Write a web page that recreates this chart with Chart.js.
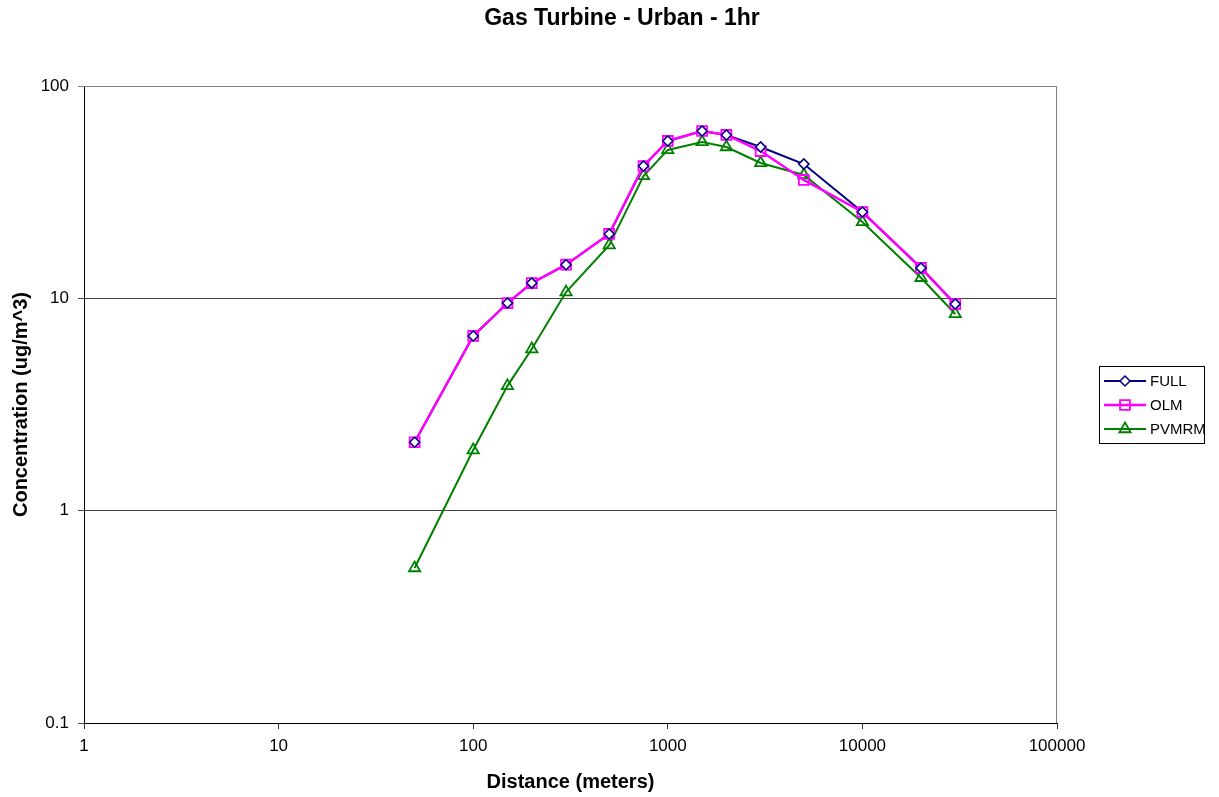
<!DOCTYPE html>
<html>
<head>
<meta charset="utf-8">
<title>Gas Turbine - Urban - 1hr</title>
<script src="https://cdn.jsdelivr.net/npm/chart.js@4/dist/chart.umd.min.js"></script>
<style>
    body { margin: 0; background: #fff; }
    canvas { display: block; }
</style>
</head>
<body>
<canvas id="concChart" width="1219" height="797"></canvas>
<script>
// Receptor distances (m) and 1-hr concentrations (ug/m^3) for each NO2 method
const distances = [50, 100, 150, 200, 300, 500, 750, 1000, 1500, 2000, 3000, 5000, 10000, 20000, 30000];
const fullConc = [2.10, 6.65, 9.5, 11.8, 14.4, 20.1, 42.0, 55.1, 61.4, 58.8, 51.6, 42.9, 25.5, 13.9, 9.4];
const olmConc = [2.10, 6.65, 9.5, 11.8, 14.4, 20.1, 42.0, 55.1, 61.4, 58.8, 49.4, 36.1, 25.5, 13.9, 9.4];
const pvmrmConc = [0.537, 1.93, 3.87, 5.77, 10.7, 17.8, 37.7, 50.0, 54.5, 51.6, 43.4, 38.1, 22.9, 12.5, 8.44];

const xTicks = [1, 10, 100, 1000, 10000, 100000];
const yTicks = [0.1, 1, 10, 100];

const FONT = 'Arial, "Liberation Sans", sans-serif';

function toPoints(values) {
    return distances.map((d, i) => ({ x: d, y: values[i] }));
}

// Title, frame and boxed legend are drawn straight onto the canvas
const chartDecor = {
    id: 'chartDecor',
    beforeDatasetsDraw(chart) {
        const { ctx, chartArea } = chart;
        ctx.save();
        ctx.strokeStyle = '#808080';
        ctx.lineWidth = 1;
        ctx.beginPath();
        ctx.moveTo(chartArea.left, Math.round(chartArea.top) + 0.5);
        ctx.lineTo(Math.round(chartArea.right) - 0.5, Math.round(chartArea.top) + 0.5);
        ctx.lineTo(Math.round(chartArea.right) - 0.5, chartArea.bottom);
        ctx.stroke();
        ctx.restore();
    },
    afterDatasetsDraw(chart) {
        // markers sit above every line, so FULL diamonds show inside OLM squares
        const { ctx, chartArea } = chart;
        chart.data.datasets.forEach((ds, i) => {
            if (ds.label !== 'FULL') return;
            chart.getDatasetMeta(i).data.forEach(pt => pt.draw(ctx, chartArea));
        });
    },
    afterDraw(chart) {
        const { ctx } = chart;
        ctx.save();
        ctx.fillStyle = '#000';
        ctx.font = 'bold 23px ' + FONT;
        ctx.textAlign = 'center';
        ctx.textBaseline = 'middle';
        ctx.fillText('Gas Turbine - Urban - 1hr', 622, 19);

        // legend box, entries in series order
        ctx.strokeStyle = '#000';
        ctx.lineWidth = 1;
        ctx.strokeRect(1099.5, 366.5, 105, 77);
        ctx.font = '15px ' + FONT;
        ctx.textAlign = 'left';
        const rowY = [381, 405, 429];
        ['FULL', 'OLM', 'PVMRM'].forEach((name, i) => {
            const ds = chart.data.datasets.find(d => d.label === name);
            const y = rowY[i];
            ctx.strokeStyle = ds.borderColor;
            ctx.lineWidth = ds.borderWidth;
            ctx.beginPath();
            ctx.moveTo(1104, y);
            ctx.lineTo(1146, y);
            ctx.stroke();
            ctx.fillStyle = ds.pointBackgroundColor;
            ctx.strokeStyle = ds.pointBorderColor;
            ctx.lineWidth = ds.pointBorderWidth;
            Chart.helpers.drawPoint(ctx, {
                pointStyle: ds.pointStyle,
                radius: ds.pointRadius,
                rotation: 0,
                borderWidth: ds.pointBorderWidth
            }, 1125, y);
            ctx.fillStyle = '#000';
            ctx.fillText(name, 1150, y + 1);
        });
        ctx.restore();
    }
};

const ctx = document.getElementById('concChart').getContext('2d');
new Chart(ctx, {
    type: 'line',
    data: {
        datasets: [
            {
                label: 'FULL',
                data: toPoints(fullConc),
                order: 2,
                borderColor: '#000080',
                borderWidth: 2,
                pointStyle: 'rectRot',
                pointRadius: 5,
                pointBorderColor: '#000080',
                pointBackgroundColor: '#ffffff',
                pointBorderWidth: 1.5
            },
            {
                label: 'OLM',
                data: toPoints(olmConc),
                order: 1,
                borderColor: '#ff00ff',
                borderWidth: 2.5,
                pointStyle: 'rect',
                pointRadius: 7,
                pointBorderColor: '#ff00ff',
                pointBackgroundColor: 'rgba(255,255,255,0)',
                pointBorderWidth: 1.8
            },
            {
                label: 'PVMRM',
                data: toPoints(pvmrmConc),
                order: 3,
                borderColor: '#008000',
                borderWidth: 2,
                pointStyle: 'triangle',
                pointRadius: 6.5,
                pointBorderColor: '#008000',
                pointBackgroundColor: 'rgba(255,255,255,0)',
                pointBorderWidth: 1.8
            }
        ]
    },
    options: {
        responsive: false,
        animation: false,
        devicePixelRatio: 1,
        layout: {
            padding: { top: 86, right: 162, bottom: 0, left: 0 }
        },
        plugins: {
            legend: { display: false },
            title: { display: false },
            tooltip: { enabled: false }
        },
        elements: {
            line: { tension: 0 }
        },
        scales: {
            x: {
                type: 'logarithmic',
                min: 1,
                max: 100000,
                afterBuildTicks: scale => { scale.ticks = xTicks.map(v => ({ value: v })); },
                afterFit: scale => { scale.height = 74; },
                border: { color: '#000', width: 1 },
                grid: { drawOnChartArea: false, drawTicks: true, tickLength: 6, color: '#333' },
                ticks: {
                    autoSkip: false,
                    maxRotation: 0,
                    padding: 7,
                    color: '#000',
                    font: { family: FONT, size: 17 },
                    callback: v => String(v)
                },
                title: {
                    display: true,
                    text: 'Distance (meters)',
                    color: '#000',
                    font: { family: FONT, size: 20, weight: 'bold' },
                    padding: { top: 3, bottom: 3 }
                }
            },
            y: {
                type: 'logarithmic',
                min: 0.1,
                max: 100,
                afterBuildTicks: scale => { scale.ticks = yTicks.map(v => ({ value: v })); },
                afterFit: scale => { scale.width = 84; },
                border: { color: '#000', width: 1 },
                grid: {
                    drawOnChartArea: true,
                    drawTicks: true,
                    tickLength: 6,
                    color: c => (c.tick && c.tick.value === 100 ? '#808080' : '#444')
                },
                ticks: {
                    autoSkip: false,
                    padding: 9,
                    color: '#000',
                    font: { family: FONT, size: 17 },
                    callback: v => String(v)
                },
                title: {
                    display: true,
                    text: 'Concentration (ug/m^3)',
                    color: '#000',
                    font: { family: FONT, size: 20, weight: 'bold' },
                    padding: { top: 9, bottom: 9 }
                }
            }
        }
    },
    plugins: [chartDecor]
});
</script>
</body>
</html>
